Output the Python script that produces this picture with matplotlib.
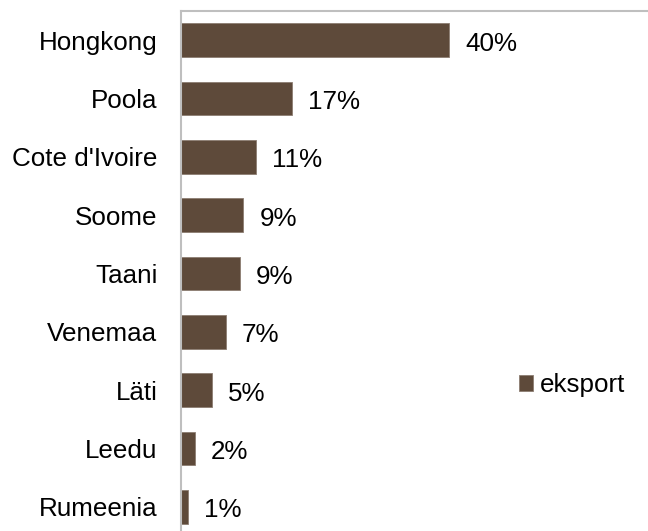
import matplotlib.pyplot as plt

countries = ['Hongkong', 'Poola', "Cote d'Ivoire", 'Soome', 'Taani',
             'Venemaa', 'Läti', 'Leedu', 'Rumeenia']
share = [40.0, 16.6, 11.2, 9.3, 8.8, 6.7, 4.6, 2.1, 1.0]
series_name = 'eksport'

bar_color = '#5E4A3A'
axis_color = '#BFBFBF'

plt.rcParams['font.family'] = ['Liberation Sans', 'DejaVu Sans']

fig = plt.figure(figsize=(6.48, 5.31), dpi=100)
ax = fig.add_axes([181 / 648, -5 / 531, 467 / 648, 525 / 531])

pos = list(range(len(countries)))
bars = ax.barh(pos, share, height=0.58, color=bar_color,
               edgecolor='#8C7D72', linewidth=0.6, label=series_name)

for y, v in zip(pos, share):
    ax.annotate(f'{v:.0f}%', xy=(v, y), xytext=(11.5, -2.5),
                textcoords='offset points', va='center', ha='left',
                fontsize=18.7, color='black')

ax.set_xlim(0, 40 * 467 / 268)
ax.set_ylim(len(countries) - 0.5, -0.5)
ax.set_yticks(pos)
ax.set_yticklabels(countries, fontsize=18.7)
ax.tick_params(axis='y', length=0, pad=17)
ax.set_xticks([])

for side in ['right', 'bottom']:
    ax.spines[side].set_visible(False)
for side in ['left', 'top']:
    ax.spines[side].set_color(axis_color)
    ax.spines[side].set_linewidth(1.5)

fig.legend(handles=[bars], labels=[series_name], loc='center left',
           bbox_to_anchor=(519 / 648, 1 - 385 / 531), frameon=False,
           fontsize=18.7, handlelength=0.55, handleheight=0.55,
           handletextpad=0.27, borderpad=0, borderaxespad=0)

fig.savefig('out.png', dpi=100)
